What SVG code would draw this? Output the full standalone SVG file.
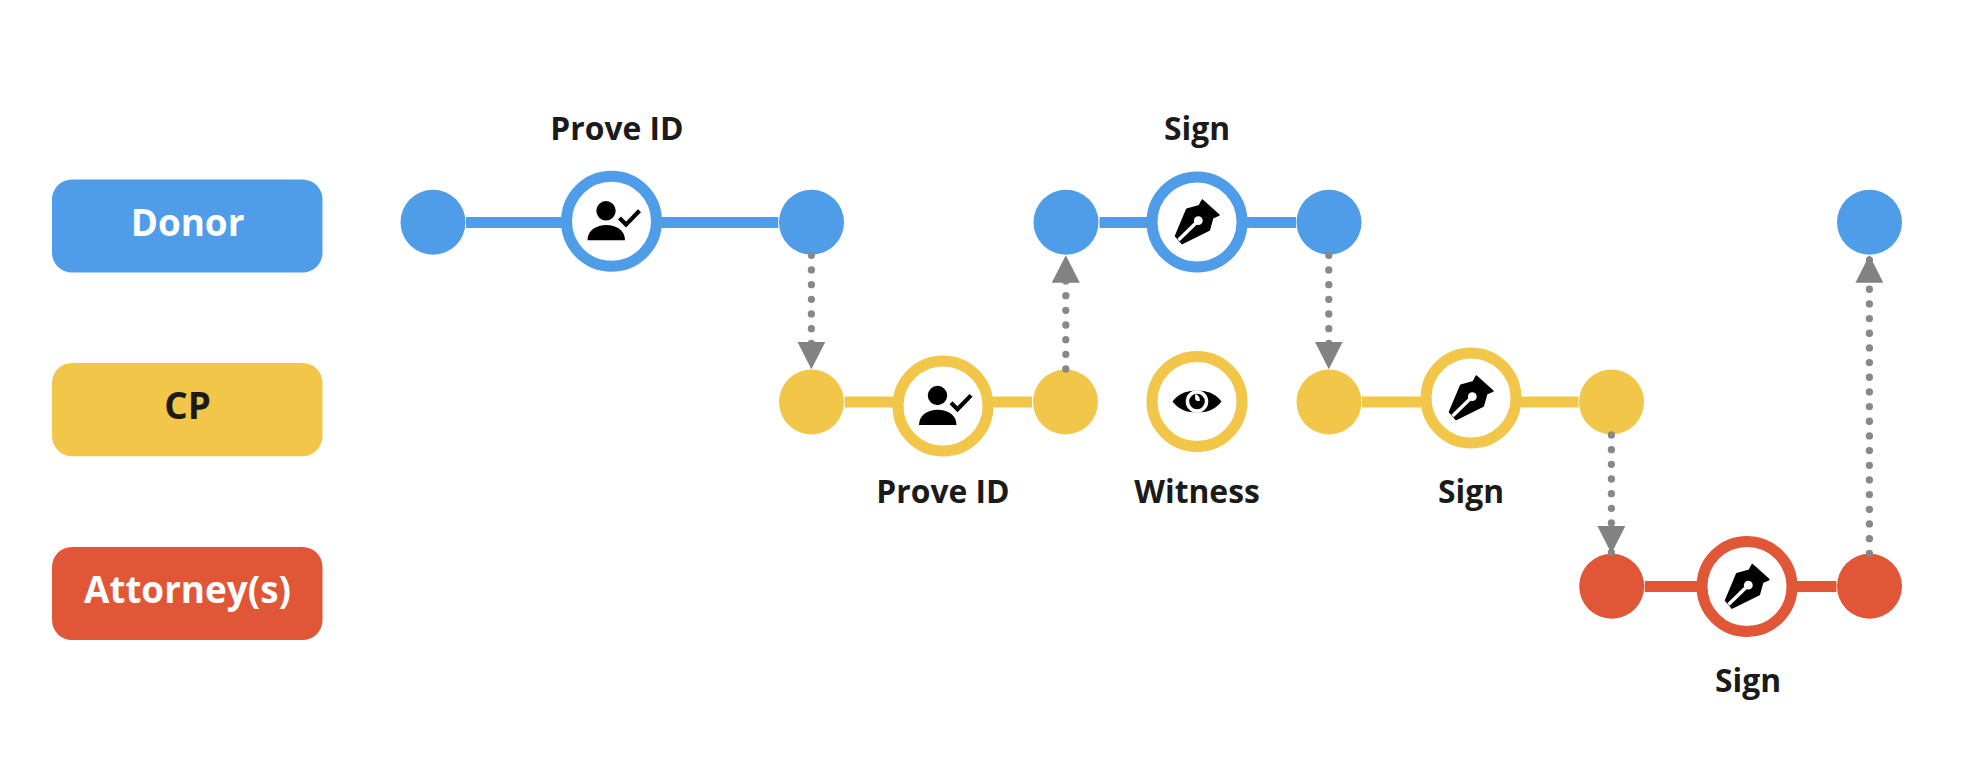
<svg xmlns="http://www.w3.org/2000/svg" xmlns:xlink="http://www.w3.org/1999/xlink" width="1974" height="758" viewBox="0 0 1974 758">
<style>
text{font-family:"Open Sans","Noto Sans","Liberation Sans",sans-serif;font-weight:700;font-size:31.8px;text-anchor:middle;fill:#1b1b1b}
text.l{font-size:36.8px}
text.w{fill:#fff}
.b{fill:#4f9ce9}.y{fill:#f2c648}.r{fill:#e05637}
.rb,.ry,.rr{fill:#fff;stroke-width:11}
.rb{stroke:#4f9ce9}.ry{stroke:#f2c648}.rr{stroke:#e05637}
.dot{fill:none;stroke:#888;stroke-width:7.3;stroke-linecap:round;stroke-dasharray:0 14.67}
</style>
<defs>
<marker id="arrow" markerUnits="userSpaceOnUse" markerWidth="28" markerHeight="28" refX="27.5" refY="14" orient="auto">
<path d="M0,0 L27.5,14 L0,28 Z" fill="#828282"/>
</marker>
<g id="person">
<circle cx="-5.5" cy="-10.5" r="9.7"/>
<path d="M-24,19 C-24,9 -15,3.8 -5.2,3.8 C4.5,3.8 13.5,9 13.5,19 Z"/>
<path d="M8,-3.2 L14.5,3.3 L28,-10.6" fill="none" stroke="#000" stroke-width="4.2"/>
</g>
<g id="pen">
<path d="M-21.5,14 L-10.3,-12.7 L2.3,-16.3 L5.3,-22 L22,-7 L15.7,-4.3 L12.3,8 L-15,21.5 Z" stroke="#000" stroke-width="1.5" stroke-linejoin="round"/>
<path d="M-18.5,18 L1,-1" stroke="#fff" stroke-width="3.4"/>
<circle cx="1.3" cy="-1.3" r="4.4" fill="#fff"/>
</g>
<g id="eye">
<path d="M-24.5,0 C-17,-9.5 -9,-10.8 0,-10.8 C9,-10.8 17,-9.5 24.5,0 C17,9.5 9,10.8 0,10.8 C-9,10.8 -17,9.5 -24.5,0 Z"/>
<circle r="11.3" fill="#fff"/>
<circle r="7.8"/>
<path d="M-1.6,-7.4 C-2.4,-2 -1.8,0.4 2.8,-0.8 C3.2,-3 1.5,-6.5 -1.6,-7.4 Z" fill="#fff"/>
</g>
</defs>
<rect width="1974" height="758" fill="#fff"/>

<g id="lane-donor"><rect class="b" x="52" y="179.5" width="270.5" height="93" rx="20"/><text class="l w" x="187.5" y="235.5">Donor</text></g>
<g id="lane-cp"><rect class="y" x="52" y="363" width="270.5" height="93.2" rx="20"/><text class="l" x="187.5" y="418.5">CP</text></g>
<g id="lane-attorney"><rect class="r" x="52" y="547" width="270.5" height="93" rx="20"/><text class="l w" x="187.5" y="602.5">Attorney(s)</text></g>

<g id="donor-start"><circle class="b" cx="433" cy="222.3" r="32.5"/></g>
<g id="donor-prove"><circle class="rb" cx="611.5" cy="221.3" r="45"/><use href="#person" x="611.5" y="221.3"/><text x="617" y="139.5">Prove ID</text></g>
<g id="donor-a"><circle class="b" cx="811.5" cy="222.3" r="32.5"/></g>
<g id="donor-b"><circle class="b" cx="1066" cy="222.3" r="32.5"/></g>
<g id="donor-sign"><circle class="rb" cx="1197" cy="222" r="45"/><use href="#pen" x="1197" y="222"/><text x="1197" y="139.5">Sign</text></g>
<g id="donor-c"><circle class="b" cx="1329" cy="222.3" r="32.5"/></g>
<g id="donor-end"><circle class="b" cx="1869.5" cy="222.3" r="32.5"/></g>

<g id="cp-a"><circle class="y" cx="811.5" cy="402" r="32.5"/></g>
<g id="cp-prove"><circle class="ry" cx="943" cy="406" r="45"/><use href="#person" x="943" y="406"/><text x="943" y="503">Prove ID</text></g>
<g id="cp-b"><circle class="y" cx="1065.5" cy="402" r="32.5"/></g>
<g id="cp-witness"><circle class="ry" cx="1197" cy="401.5" r="45"/><use href="#eye" x="1197" y="401.5"/><text x="1197" y="502.5">Witness</text></g>
<g id="cp-c"><circle class="y" cx="1329" cy="402" r="32.5"/></g>
<g id="cp-sign"><circle class="ry" cx="1471" cy="398" r="45"/><use href="#pen" x="1471" y="398"/><text x="1471" y="502.7">Sign</text></g>
<g id="cp-d"><circle class="y" cx="1611.5" cy="402" r="32.5"/></g>

<g id="att-a"><circle class="r" cx="1611.7" cy="586.3" r="32.5"/></g>
<g id="att-sign"><circle class="rr" cx="1747" cy="586.5" r="45"/><use href="#pen" x="1747" y="586.5"/><text x="1748" y="691.7">Sign</text></g>
<g id="att-b"><circle class="r" cx="1869.5" cy="586.3" r="32.5"/></g>

<g id="connectors">
<rect class="b" x="466" y="217" width="96" height="11"/>
<rect class="b" x="661" y="217" width="117.3" height="11"/>
<rect class="b" x="1099.5" y="217" width="48" height="11"/>
<rect class="b" x="1246.5" y="217" width="49.5" height="11"/>
<rect class="y" x="844.7" y="396.5" width="49" height="11"/>
<rect class="y" x="992.5" y="396.5" width="39.5" height="11"/>
<rect class="y" x="1362" y="396.5" width="59" height="11"/>
<rect class="y" x="1520.5" y="396.5" width="58" height="11"/>
<rect class="r" x="1644.7" y="581" width="52.5" height="11"/>
<rect class="r" x="1796.5" y="581" width="40" height="11"/>
<path class="dot" marker-end="url(#arrow)" d="M811.4,255.3 V369.2"/>
<path class="dot" marker-end="url(#arrow)" d="M1065.8,369 V255.2"/>
<path class="dot" marker-end="url(#arrow)" d="M1328.8,255.3 V369.2"/>
<path class="dot" marker-end="url(#arrow)" d="M1611.4,435 V553.4"/>
<path class="dot" marker-end="url(#arrow)" d="M1869.4,553.3 V255.2"/>
</g>
</svg>
